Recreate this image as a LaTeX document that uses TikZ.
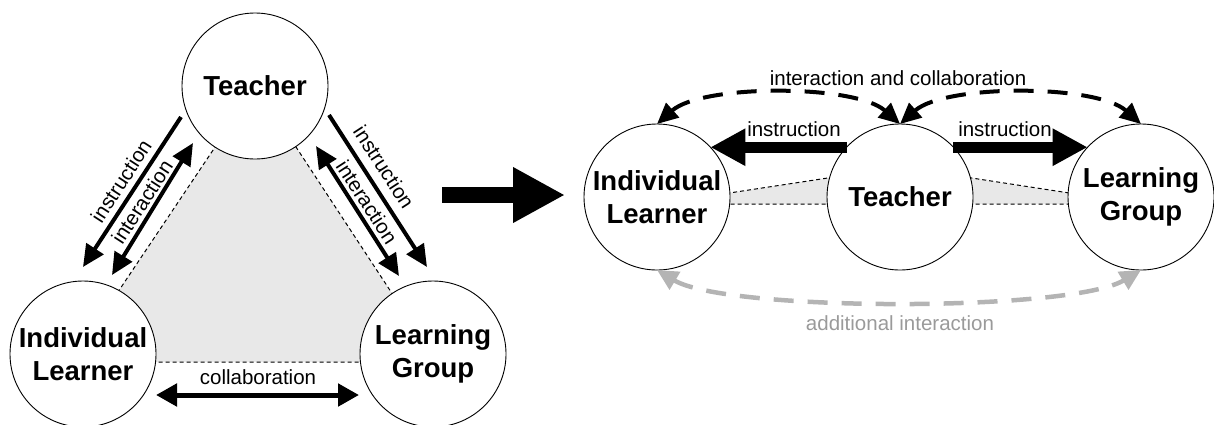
\documentclass[tikz,border=0pt]{standalone}
\usepackage{fontspec}
\setmainfont{Liberation Sans}
\usetikzlibrary{arrows.meta}
\definecolor{trifill}{HTML}{E8E8E8}
\definecolor{addgray}{HTML}{B4B4B4}
\definecolor{addtext}{HTML}{9A9A9A}
\begin{document}
\begin{tikzpicture}[x=1pt,y=-1pt,
  person/.style={circle,draw,line width=0.9pt,fill=white,minimum size=146pt,inner sep=0pt,outer sep=0pt,align=center,font=\fontsize{27.5}{33}\selectfont\bfseries},
  lbl/.style={font=\fontsize{20.5}{24}\selectfont,inner sep=1pt},
  trishape/.style={fill=trifill,draw,dash pattern=on 4pt off 3pt,line width=1pt},
  onearrow/.style={line width=4pt,-{Triangle[length=22pt,width=20pt]}},
  twoarrow/.style={line width=4pt,{Triangle[length=22pt,width=20pt]}-{Triangle[length=22pt,width=20pt]}},
  collabarrow/.style={line width=5pt,{Triangle[length=21pt,width=22pt]}-{Triangle[length=21pt,width=22pt]}},
  bararrow/.style={line width=11pt,-{Triangle[length=35pt,width=35pt]}},
  dasharc/.style={line width=4pt,dash pattern=on 20pt off 14pt,{Triangle[length=21pt,width=19pt]}-{Triangle[length=21pt,width=19pt]}},
  grayarc/.style={addgray,line width=4.5pt,dash pattern=on 20pt off 14pt,{Triangle[length=21pt,width=20pt]}-{Triangle[length=21pt,width=20pt]}},
  bigarrow/.style={line width=16pt,-{Triangle[length=52pt,width=52pt]}}
]
\useasboundingbox (0,0) rectangle (1214,424);

% ---------- left diagram ----------
\coordinate (lTv) at (256,86);
\coordinate (lIv) at (71,362);
\coordinate (lGv) at (437,362);
\filldraw[trishape] (lTv) -- (lIv) -- (lGv) -- cycle;

\node[person] (lT) at (255,86) {Teacher};
\node[person] (lI) at (83,354) {Individual\\Learner};
\node[person] (lG) at (433,354) {Learning\\Group};

\coordinate (liA) at (181,117);
\coordinate (liB) at (83,267);
\coordinate (lnA) at (193,143);
\coordinate (lnB) at (112,275);
\coordinate (riA) at (329,115);
\coordinate (riB) at (427,267);
\coordinate (rnA) at (316,146);
\coordinate (rnB) at (399,276);
\coordinate (cA) at (156,395);
\coordinate (cB) at (359,395);

\draw[onearrow] (liA) -- (liB);
\draw[twoarrow] (lnA) -- (lnB);
\draw[onearrow] (riA) -- (riB);
\draw[twoarrow] (rnA) -- (rnB);
\draw[collabarrow] (cA) -- (cB);

\node[lbl,rotate=57] (lInstr) at (121,181) {instruction};
\node[lbl,rotate=57] (lInter) at (142,202) {interaction};
\node[lbl,rotate=-57] (rInstr) at (384,167) {instruction};
\node[lbl,rotate=-57] (rInter) at (367,202) {interaction};
\node[lbl] (collab) at (258,377) {collaboration};

% ---------- big arrow ----------
\coordinate (bigA) at (442,195);
\coordinate (bigB) at (565,195);
\draw[bigarrow] (bigA) -- (bigB);

% ---------- right diagram ----------
\coordinate (rIv) at (657,204);
\coordinate (rTv) at (900,167);
\coordinate (rGv) at (1141,204);
\filldraw[trishape] (rIv) -- (rTv) -- (rGv) -- cycle;

\node[person] (rI) at (657,197) {Individual\\Learner};
\node[person] (rT) at (900,197) {Teacher};
\node[person] (rG) at (1141,197) {Learning\\Group};

\draw[bararrow] (rT.137) -- (rI.43);
\draw[bararrow] (rT.43) -- (rG.137);
\node[lbl] (instrL) at (794,129) {instruction};
\node[lbl] (instrR) at (1005,129) {instruction};

\draw[dasharc] (rI.north) .. controls +(45,-40) and +(-45,-40) .. (rT.north);
\draw[dasharc] (rT.north) .. controls +(45,-40) and +(-45,-40) .. (rG.north);
\node[lbl] (icl) at (898,78) {interaction and collaboration};

\draw[grayarc] (rI.south) .. controls +(70,42) and +(-70,42) .. (rG.south);
\node[lbl,text=addtext] (addl) at (900,323) {additional interaction};
\end{tikzpicture}
\end{document}
